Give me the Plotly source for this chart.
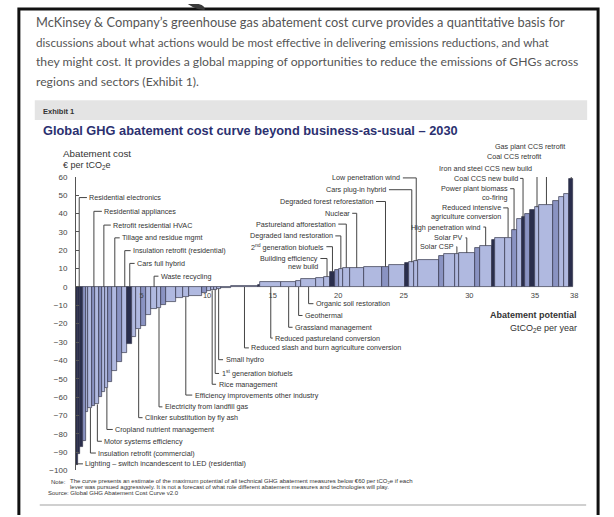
import numpy as np
import plotly.graph_objects as go

# ---------------- data ----------------
# abatement potential of each lever (GtCO2e per year) and its cost (EUR per tCO2e)
abatement_potential = [
    0.15, 0.19, 0.23, 0.19, 0.19, 0.30, 0.23, 0.30, 0.23, 0.23,
    0.23, 0.30, 0.38, 0.38, 0.38, 0.38, 0.30, 0.38, 0.38, 0.38,
    0.45, 0.30, 0.38, 0.76, 0.53, 0.45, 0.99, 0.38, 0.30, 0.23,
    0.23, 0.30, 0.76, 2.12, 0.15, 1.59, 1.14, 0.38, 1.14, 0.61,
    0.45, 0.38, 0.30, 0.30, 0.53, 1.06, 1.36, 0.61, 1.21, 0.30,
    0.38, 0.30, 1.59, 0.38, 0.83, 0.30, 1.21, 0.38, 0.91, 0.23,
    0.76, 0.53, 0.38, 0.38, 0.23, 0.38, 0.38, 0.38, 1.06, 0.45,
    0.38, 0.38, 0.30,
]
abatement_cost = [
    -97, -91, -87, -84, -68, -66, -65, -64, -60, -57,
    -55, -52, -46, -41, -36, -31, -27, -23, -21, -15,
    -12, -11.5, -10, -8, -6, -5.5, -4.6, -3, -2.2, -1.8,
    -1.4, -1, -0.5, 0.6, 1.2, 2.5, 3, 3.5, 4.5, 5,
    5.5, 8, 9.5, 10, 10.5, 10.5, 10.7, 11, 12, 13,
    13.5, 14.2, 15, 17, 18, 18.2, 18.6, 21.5, 22.5, 25.5,
    26.5, 27, 31, 37, 38, 40, 42, 43.5, 45, 47,
    49, 51, 59,
]
lever_names = [
    "Lighting – switch incandescent to LED (residential)", "Residential electronics", "", "", "",
    "Insulation retrofit (commercial)", "Residential appliances", "Motor systems efficiency", "",
    "Retrofit residential HVAC", "Cropland nutrient management", "", "Tillage and residue mgmt", "",
    "Insulation retrofit (residential)", "Cars full hybrid", "", "Clinker substitution by fly ash", "", "",
    "Waste recycling", "Electricity from landfill gas", "", "", "", "Efficiency improvements other industry",
    "", "", "", "Rice management", "1<sup>st</sup> generation biofuels", "Small hydro", "",
    "Reduced slash and burn agriculture conversion", "", "Reduced pastureland conversion",
    "Grassland management", "Geothermal", "Organic soil restoration", "",
    "Building efficiency<br>new build", "2<sup>nd</sup> generation biofuels", "", "Degraded land restoration",
    "Pastureland afforestation", "Nuclear", "", "Degraded forest reforestation", "", "",
    "Cars plug-in hybrid", "Low penetration wind", "", "", "", "Solar CSP", "Solar PV", "",
    "High penetration wind", "", "", "Reduced intensive<br>agriculture conversion",
    "Power plant biomass<br>co-firing", "", "Coal CCS new build", "", "", "Iron and steel CCS new build",
    "Coal CCS retrofit", "", "", "", "Gas plant CCS retrofit",
]
y_ticks = list(range(-100, 61, 10))
x_ticks = [5, 10, 15, 20, 25, 30, 35, 38]
x_tick_labels = ["5", "10", "15", "20", "25", "30", "35", "38"]

paragraph = [
    "McKinsey &amp; Company’s greenhouse gas abatement cost curve provides a quantitative basis for",
    "discussions about what actions would be most effective in delivering emissions reductions, and what",
    "they might cost. It provides a global mapping of opportunities to reduce the emissions of GHGs across",
    "regions and sectors (Exhibit 1).",
]
title_text = "Global GHG abatement cost curve beyond business-as-usual – 2030"
note_lines = [
    "The curve presents an estimate of the maximum potential of all technical GHG abatement measures below €60 per tCO<sub>2</sub>e if each",
    "lever was pursued aggressively. It is not a forecast of what role different abatement measures and technologies will play.",
]
source_text = "Source: Global GHG Abatement Cost Curve v2.0"

# ---------------- styles / layout ----------------
W, H = 614, 517
FONT = "Liberation Sans, Arial, sans-serif"
X0PX, X1PX = 76.5, 578.0
YTOPPX, YBOTPX = 176.0, 474.7
YMIN, YMAX = -100, 60
XMAX = 38

LIGHT, MID, DARK = "#b0b9e0", "#8a93c2", "#2a2e4c"
dark_idx = {0, 1, 2, 15, 34, 41, 49, 59, 64, 66, 72}
mid_idx = {3, 6, 8, 11, 13, 18, 22, 27, 42, 47, 53, 57, 62, 65, 69}
bar_colors = [DARK if i in dark_idx else MID if i in mid_idx else LIGHT
              for i in range(len(abatement_cost))]
paragraph_sizes = [12.8, 11.7, 12.2, 12.2]

# label placement: group, label y (px), text x (px)
label_pos = {
    "Residential electronics": ("up_r", 197, 89),
    "Residential appliances": ("up_r", 211, 104),
    "Retrofit residential HVAC": ("up_r", 225, 113),
    "Tillage and residue mgmt": ("up_r", 238, 122),
    "Insulation retrofit (residential)": ("up_r", 251, 133),
    "Cars full hybrid": ("up_r", 264, 137),
    "Waste recycling": ("up_r", 277, 161),
    "Lighting – switch incandescent to LED (residential)": ("down_r", 468, 85),
    "Insulation retrofit (commercial)": ("down_r", 457, 98),
    "Motor systems efficiency": ("down_r", 445, 104),
    "Cropland nutrient management": ("down_r", 433, 115),
    "Clinker substitution by fly ash": ("down_r", 421, 145),
    "Electricity from landfill gas": ("down_r", 410, 165),
    "Efficiency improvements other industry": ("down_r", 398, 195),
    "Rice management": ("down_r", 387, 219),
    "1<sup>st</sup> generation biofuels": ("down_r", 376, 222),
    "Small hydro": ("down_r", 362, 226),
    "Reduced slash and burn agriculture conversion": ("down_r", 350, 252),
    "Reduced pastureland conversion": ("down_r", 340, 276),
    "Grassland management": ("down_r", 329, 296),
    "Geothermal": ("down_r", 317, 306),
    "Organic soil restoration": ("down_r", 305, 317),
    "Low penetration wind": ("up_l", 177, 404),
    "Cars plug-in hybrid": ("up_l", 189, 390),
    "Degraded forest reforestation": ("up_l", 201, 377),
    "Nuclear": ("up_l", 213, 353),
    "Pastureland afforestation": ("up_l", 224, 339),
    "Degraded land restoration": ("up_l", 236, 336),
    "2<sup>nd</sup> generation biofuels": ("up_l", 247, 327),
    "Building efficiency<br>new build": ("up_l", 259, 321),
    "Solar CSP": ("up_l", 247, 458),
    "Solar PV": ("up_l", 238, 467),
    "High penetration wind": ("up_l", 227, 485),
    "Reduced intensive<br>agriculture conversion": ("up_l", 207.5, 505),
    "Power plant biomass<br>co-firing": ("up_l", 188, 512),
    "Coal CCS new build": ("up_l", 177.5, 522),
    "Iron and steel CCS new build": ("up_l", 167.5, 536),
    "Coal CCS retrofit": ("up_l", 155.5, 546),
    "Gas plant CCS retrofit": ("up_l", 145, 570),
}


def fx(px):
    return px / W


def fy(py):
    return 1 - py / H


def ydata(py):
    return YMAX - (py - YTOPPX) * (YMAX - YMIN) / (YBOTPX - YTOPPX)


def xdata(px):
    return (px - X0PX) * XMAX / (X1PX - X0PX)


widths = np.array(abatement_potential)
centers = np.cumsum(widths) - widths / 2

fig = go.Figure()
fig.add_trace(go.Bar(
    x=centers, y=abatement_cost, width=widths,
    marker=dict(color=bar_colors, line=dict(color="#35374c", width=0.7)),
    hoverinfo="skip", showlegend=False,
))

shapes = []
annotations = []

# frame + decorations
shapes.append(dict(type="path", xref="paper", yref="paper",
                   path=f"M {fx(19)},{fy(520)} L {fx(19)},{fy(5)} L {fx(602)},{fy(5)} L {fx(602)},{fy(520)}",
                   line=dict(color="#111", width=3)))
shapes.append(dict(type="path", xref="paper", yref="paper",
                   path=f"M {fx(189)},{fy(0)} L {fx(200)},{fy(0)} Q {fx(207)},{fy(2)} {fx(206)},{fy(6)} "
                        f"L {fx(199)},{fy(5)} Q {fx(193)},{fy(3)} {fx(189)},{fy(0)} Z",
                   fillcolor="#3a3a3a", line=dict(width=0)))
shapes.append(dict(type="rect", xref="paper", yref="paper", x0=fx(35), x1=fx(591), y0=fy(118), y1=fy(98),
                   fillcolor="#e4e4e4", line=dict(width=0), layer="below"))
shapes.append(dict(type="line", xref="paper", yref="paper", x0=fx(40), x1=fx(590), y0=fy(510), y1=fy(510),
                   line=dict(color="#d0d0d0", width=2)))


def txt(x, y, text, size, color="#333", anchor="left", bold=False, family=FONT):
    annotations.append(dict(
        x=fx(x), y=fy(y), xref="paper", yref="paper", text=f"<b>{text}</b>" if bold else text,
        showarrow=False, xanchor=anchor, yanchor="middle",
        font=dict(family=family, size=size, color=color), borderpad=0,
    ))


for i, line in enumerate(paragraph):
    txt(35, 18 + i * 20.3, line, paragraph_sizes[i], color="#555", family="Lato, Liberation Sans, sans-serif")

txt(42, 109, "Exhibit 1", 7.5, color="#333", bold=True)
txt(42, 129, title_text, 12.8, color="#2b3070", bold=True)
txt(62, 152, "Abatement cost", 9.8, color="#333")
txt(62, 164, "€ per tCO<sub>2</sub>e", 9, color="#333")
txt(582, 317, "Abatement potential", 9, color="#333", anchor="right", bold=True)
txt(582, 330, "GtCO<sub>2</sub>e per year", 9, color="#333", anchor="right")
txt(67, 486, "Note:", 6, color="#333", anchor="right")
txt(69, 486, note_lines[0], 6, color="#333")
txt(69, 492, note_lines[1], 6, color="#333")
txt(47, 498, source_text, 6, color="#333")

# lever labels with leader lines
LINE = dict(color="#444", width=1)
LFS = 7.2
for i, name in enumerate(lever_names):
    if not name:
        continue
    group, ly, tx = label_pos[name]
    cx = centers[i]
    v = abatement_cost[i]
    lines = name.split("<br>")
    if group == "up_r":
        shapes.append(dict(type="line", xref="x", yref="y", x0=cx, x1=cx, y0=0, y1=ydata(ly), line=LINE))
        shapes.append(dict(type="line", xref="x", yref="y", x0=cx, x1=xdata(tx - 1.5),
                           y0=ydata(ly), y1=ydata(ly), line=LINE))
        anchor = "left"
    elif group == "down_r":
        shapes.append(dict(type="line", xref="x", yref="y", x0=cx, x1=cx, y0=min(0, v), y1=ydata(ly), line=LINE))
        shapes.append(dict(type="line", xref="x", yref="y", x0=cx, x1=xdata(tx - 1.5),
                           y0=ydata(ly), y1=ydata(ly), line=LINE))
        anchor = "left"
    else:
        shapes.append(dict(type="line", xref="x", yref="y", x0=cx, x1=cx, y0=max(0, v), y1=ydata(ly), line=LINE))
        shapes.append(dict(type="line", xref="x", yref="y", x0=xdata(tx + 1.5), x1=cx,
                           y0=ydata(ly), y1=ydata(ly), line=LINE))
        anchor = "right"
    for k, ln in enumerate(lines):
        txt(tx, ly + k * 8.5, ln, LFS, color="#333", anchor=anchor)

fig.update_layout(
    width=W, height=H, margin=dict(l=0, r=0, t=0, b=0),
    paper_bgcolor="white", plot_bgcolor="rgba(0,0,0,0)",
    shapes=shapes, annotations=annotations, bargap=0, barmode="overlay",
    xaxis=dict(domain=[fx(X0PX), fx(X1PX)], range=[0, XMAX], showgrid=False, zeroline=False,
               showline=False, tickvals=x_ticks, ticktext=x_tick_labels, ticks="",
               anchor="free", position=fy(288), ticklabelstandoff=3,
               tickfont=dict(family=FONT, size=7.5, color="#444")),
    yaxis=dict(domain=[fy(YBOTPX), fy(YTOPPX)], range=[YMIN, YMAX], showgrid=False, zeroline=False,
               showline=True, linecolor="#555", linewidth=1, ticks="inside", ticklen=3,
               tickcolor="#555", tickvals=y_ticks, ticklabelstandoff=6,
               tickfont=dict(family=FONT, size=8, color="#444")),
)

fig.write_html("out.html", config={"displayModeBar": False},
               post_script="document.body.style.margin='0';document.body.style.overflow='hidden';")
